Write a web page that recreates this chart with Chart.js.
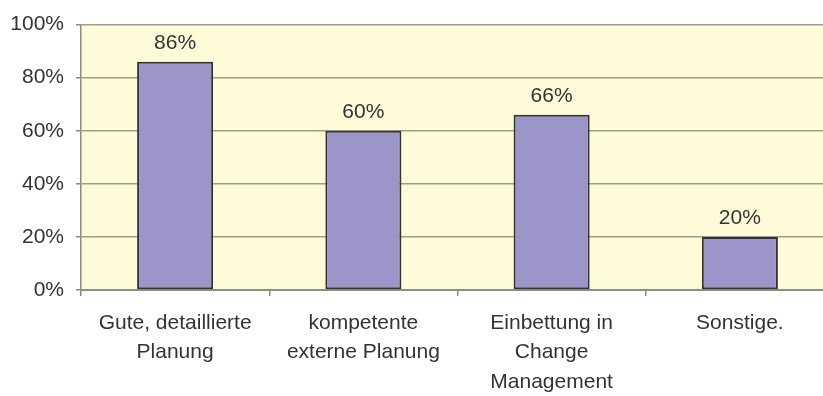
<!DOCTYPE html>
<html>
<head>
<meta charset="utf-8">
<script src="https://cdn.jsdelivr.net/npm/chart.js@4/dist/chart.umd.min.js"></script>
<style>
  html, body { margin: 0; padding: 0; background: #fff; overflow: hidden; }
  #wrap { width: 850px; height: 396px; }
</style>
</head>
<body>
<div id="wrap"><canvas id="chart" width="850" height="396"></canvas></div>
<script>
// categories (multi-line labels) and percentages
var categories = [
  ['Gute, detaillierte', 'Planung'],
  ['kompetente', 'externe Planung'],
  ['Einbettung in', 'Change', 'Management'],
  ['Sonstige.']
];
var values = [86, 60, 66, 20];
var yTicks = [0, 20, 40, 60, 80, 100];

var font = "'Liberation Sans', Arial, Helvetica, sans-serif";

// yellow background behind the plot
var plotBg = {
  id: 'plotBg',
  beforeDraw: function (chart) {
    var a = chart.chartArea, ctx = chart.ctx;
    ctx.save();
    ctx.fillStyle = '#FFFAD8';
    ctx.fillRect(a.left, a.top, a.right - a.left, a.bottom - a.top);
    ctx.restore();
  }
};

// percent text above each bar
var barLabels = {
  id: 'barLabels',
  afterDatasetsDraw: function (chart) {
    var ctx = chart.ctx;
    var meta = chart.getDatasetMeta(0);
    ctx.save();
    ctx.font = '21px ' + font;
    ctx.fillStyle = '#333333';
    ctx.textAlign = 'center';
    ctx.textBaseline = 'alphabetic';
    meta.data.forEach(function (bar, i) {
      ctx.fillText(values[i] + '%', bar.x, bar.y - 13);
    });
    ctx.restore();
  }
};

new Chart(document.getElementById('chart'), {
  type: 'bar',
  data: {
    labels: categories,
    datasets: [{
      data: values,
      backgroundColor: '#9B95C9',
      borderColor: '#333333',
      borderWidth: 2,
      borderSkipped: false,
      categoryPercentage: 1,
      barPercentage: 0.404
    }]
  },
  options: {
    responsive: false,
    animation: false,
    devicePixelRatio: 1,
    layout: { padding: { top: 20, right: 16, left: 0, bottom: 0 } },
    plugins: {
      legend: { display: false },
      tooltip: { enabled: false }
    },
    scales: {
      x: {
        afterFit: function (s) { s.height = 106; },
        grid: {
          offset: true,
          drawOnChartArea: false,
          drawTicks: true,
          tickLength: 6,
          color: '#8a8a80',
          lineWidth: 1.5
        },
        border: { color: '#8f8e80', width: 2 },
        ticks: {
          color: '#333333',
          padding: 12,
          maxRotation: 0,
          autoSkip: false,
          font: { family: font, size: 21, lineHeight: 1.414 }
        }
      },
      y: {
        min: 0,
        max: 100,
        afterFit: function (s) { s.width = 81; },
        afterBuildTicks: function (s) {
          s.ticks = yTicks.map(function (v) { return { value: v }; });
        },
        grid: {
          color: '#9f9d89',
          lineWidth: 1.5,
          drawTicks: true,
          tickLength: 5,
          tickColor: '#8a8a8a'
        },
        border: { color: '#8a8a8a', width: 1.5 },
        ticks: {
          color: '#333333',
          padding: 12,
          font: { family: font, size: 21 },
          callback: function (v) { return v + '%'; }
        }
      }
    }
  },
  plugins: [plotBg, barLabels]
});
</script>
</body>
</html>
